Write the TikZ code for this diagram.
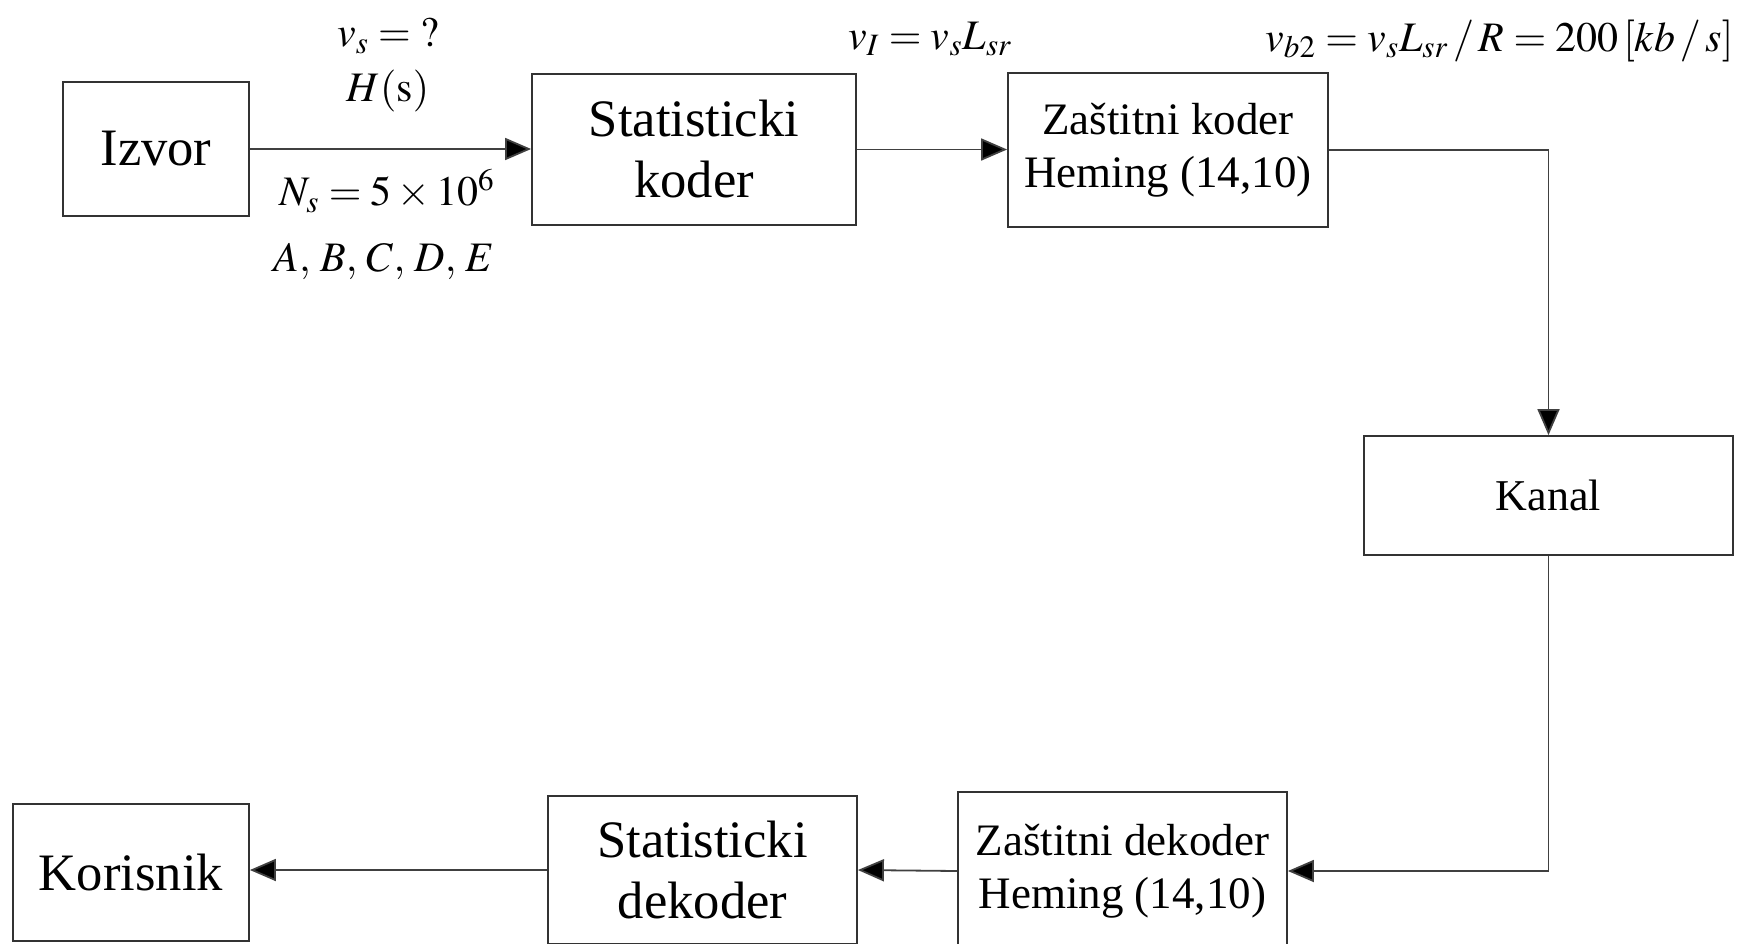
\documentclass[tikz,border=0pt]{standalone}
\usepackage{mathptmx}
\usepackage{fontspec}
\setmainfont{Liberation Serif}
\usetikzlibrary{arrows.meta}
\usetikzlibrary{calc}

\begin{document}
\begin{tikzpicture}[x=0.5pt,y=-0.5pt,
    blok/.style={draw=black!80,line width=0.9pt,align=center,inner sep=0pt},
    veza/.style={draw=black!75,line width=0.9pt,-{Triangle[length=13pt,width=11pt,fill=black]}},
    oznaka/.style={font=\fontsize{21}{25}\selectfont,inner sep=0pt}]
    \useasboundingbox (0,0) rectangle (1740,943);
    \clip (0,0) rectangle (1740,943);

    % Blocks of the top row:
    \node [blok,minimum width=93pt,minimum height=67pt,font=\fontsize{26.3}{30}\selectfont] (izvor) at (156,149) {Izvor};
    \node [blok,minimum width=162pt,minimum height=75.5pt,font=\fontsize{26.3}{30.5}\selectfont] (statkoder) at (694,149.5) {Statisticki\\koder};
    \node [blok,minimum width=160pt,minimum height=77pt,font=\fontsize{22.5}{26.5}\selectfont] (zkoder) at (1168,150) {Zaštitni koder\\Heming (14,10)};

    % Channel:
    \node [blok,minimum width=184.5pt,minimum height=59.5pt,font=\fontsize{22}{26}\selectfont] (kanal) at (1548.5,495.5) {Kanal};

    % Blocks of the bottom row:
    \node [blok,minimum width=164.5pt,minimum height=79pt,font=\fontsize{22.5}{26.5}\selectfont] (zdekoder) at (1122.5,871) {Zaštitni dekoder\\Heming (14,10)};
    \node [blok,minimum width=154.5pt,minimum height=74pt,font=\fontsize{26.3}{30.5}\selectfont] (statdekoder) at (702.5,870) {Statisticki\\dekoder};
    \node [blok,minimum width=118pt,minimum height=68.5pt,font=\fontsize{26.3}{30}\selectfont] (korisnik) at (131,872.5) {Korisnik};

    % Corners of the loop round the channel:
    \coordinate (gore) at (kanal.north |- zkoder.east);
    \coordinate (dole) at (kanal.south |- zdekoder.east);

    % Connectors:
    \draw [veza] (izvor.east) -- (izvor.east -| statkoder.west);
    \draw [veza] (statkoder.east) -- (statkoder.east -| zkoder.west);
    \draw [veza] (zkoder.east) -- (gore) -- (kanal.north);
    \draw [veza] (kanal.south) -- (dole) -- (zdekoder.east);
    \draw [veza] (zdekoder.west) -- (statdekoder.east);
    \draw [veza] (statdekoder.west) -- (statdekoder.west -| korisnik.east);

    % Labels:
    \node [oznaka] (brzina) at (388,36) {$v_s=\mathrm{?}$};
    \node [oznaka] (entropija) at (388,91) {$H(\mathrm{s})$};
    \node [oznaka] (broj) at (387,191) {$N_s=5\times10^6$};
    \node [oznaka] (simboli) at (384,261) {$A,\mkern2mu B,\mkern2mu C,\mkern2mu D,\mkern2mu E$};
    \node [oznaka] (protok) at (930,39) {$v_I=v_sL_{sr}$};
    \node [oznaka,anchor=base east] (protok2) at (1734,51) {$v_{b2}=v_sL_{sr}\,/\,R=200\,[kb\,/\,s]$};
\end{tikzpicture}
\end{document}
